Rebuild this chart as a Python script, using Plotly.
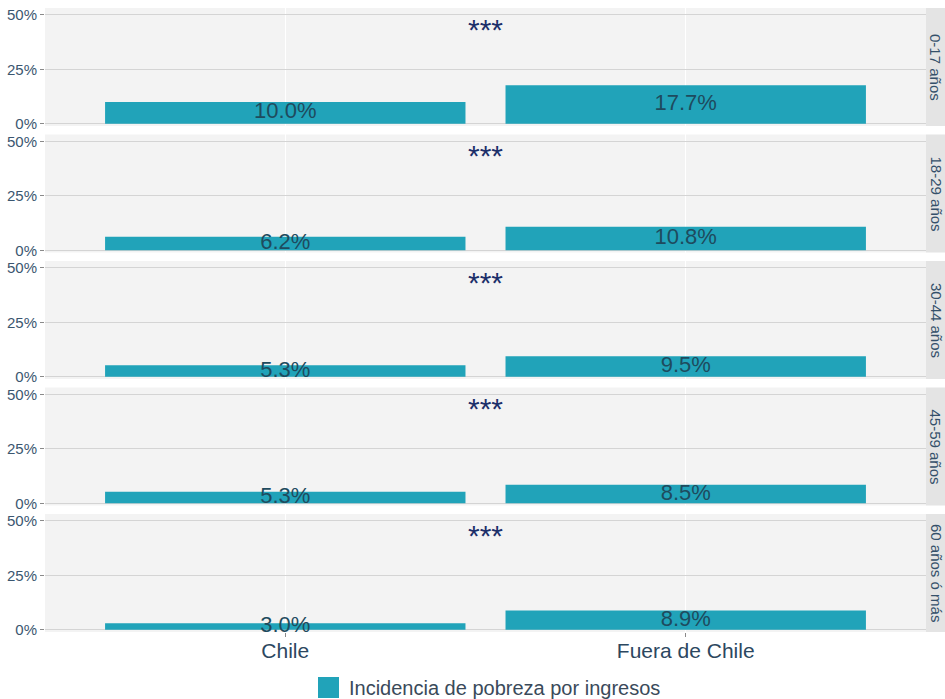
import plotly.graph_objects as go
from plotly.subplots import make_subplots

# data
groups = ["0-17 años", "18-29 años", "30-44 años", "45-59 años", "60 años ó más"]
locations = ["Chile", "Fuera de Chile"]
chile = [10.0, 6.2, 5.3, 5.3, 3.0]
fuera = [17.7, 10.8, 9.5, 8.5, 8.9]
signif = ["***", "***", "***", "***", "***"]
series_name = "Incidencia de pobreza por ingresos"

BAR = "#21A3B9"
PANEL = "#F3F3F3"
STRIP = "#E4E4E4"
GRID = "#D4D4D4"
TXT = "#3B5670"
FONT = "Liberation Sans"

PW = 881   # plot area width
PH = 624   # plot area height (all panels)

fig = make_subplots(rows=len(groups), cols=1, shared_xaxes=True,
                    vertical_spacing=0.0136)

for i, g in enumerate(groups):
    row = i + 1
    sfx = str(row) if row > 1 else ""
    vals = [chile[i] / 100, fuera[i] / 100]
    fig.add_trace(go.Bar(
        x=locations, y=vals, width=0.9,
        marker=dict(color=BAR, line=dict(width=0)),
        name=series_name, showlegend=False, hoverinfo="skip",
    ), row=row, col=1)
    # value labels, centred in the bar
    fig.add_trace(go.Scatter(
        x=locations, y=[v / 2 for v in vals], mode="text",
        text=[f"{v * 100:.1f}%" for v in vals],
        textfont=dict(size=22, color="#1E4B5E", family=FONT),
        showlegend=False, hoverinfo="skip",
    ), row=row, col=1)
    # significance stars between bars
    fig.add_annotation(x=0.5, y=0.435, xref="x" + sfx, yref="y" + sfx,
                       text=signif[i], showarrow=False, yanchor="middle",
                       font=dict(size=30, color="#1C2F6A", family=FONT))
    # facet strip on the right
    ydom = f"y{sfx} domain"
    fig.add_shape(type="rect", xref="paper", yref=ydom,
                  x0=1.0, x1=1.04, y0=0, y1=1,
                  fillcolor=STRIP, line=dict(width=0), layer="below")
    fig.add_annotation(xref="paper", yref=ydom, x=(936 - 45) / PW, y=0.5,
                       text=g, textangle=90, showarrow=False,
                       xanchor="center", yanchor="middle",
                       font=dict(size=15, color="#34506A", family=FONT))

    fig.update_yaxes(row=row, col=1, range=[-0.01, 0.532], automargin=False,
                     tickvals=[0, 0.25, 0.5], ticktext=["0%", "25%", "50%"],
                     showgrid=True, gridcolor=GRID, gridwidth=1,
                     zeroline=False, ticks="outside", ticklen=4,
                     tickcolor="#8A8A8A", ticklabeloverflow="allow",
                     tickfont=dict(size=15, color=TXT, family=FONT),
                     showline=False)
    fig.update_xaxes(row=row, col=1, range=[-0.6, 1.6], automargin=False,
                     showgrid=True, gridcolor="#FFFFFF", gridwidth=1,
                     zeroline=False, showline=False,
                     ticks="outside" if row == len(groups) else "",
                     ticklen=4, tickcolor="#8A8A8A", ticklabelstandoff=-4,
                     tickfont=dict(size=21, color="#2C4760", family=FONT))

# legend drawn below the panels
fig.add_shape(type="rect", xref="paper", yref="paper",
              x0=(318 - 45) / PW, x1=(339 - 45) / PW,
              y0=-(677 - 632) / PH, y1=-(698 - 632) / PH,
              fillcolor=BAR, line=dict(width=0))
fig.add_annotation(xref="paper", yref="paper",
                   x=(347 - 45) / PW, y=-(688 - 632) / PH,
                   xanchor="left", yanchor="middle", showarrow=False,
                   text=series_name,
                   font=dict(size=20, color="#3A4A5A", family=FONT))

fig.update_layout(
    width=945, height=699,
    margin=dict(l=45, r=19, t=8, b=67, autoexpand=False),
    plot_bgcolor=PANEL, paper_bgcolor="#FFFFFF",
    barmode="group", bargap=0.1,
    showlegend=False,
    font=dict(family=FONT, color=TXT),
)

# drop the browser's default page margin so the figure sits at the corner
fig.write_html("out.html", config={"displayModeBar": False},
               post_script="document.body.style.margin='0';"
                           "document.body.style.overflow='hidden';")
